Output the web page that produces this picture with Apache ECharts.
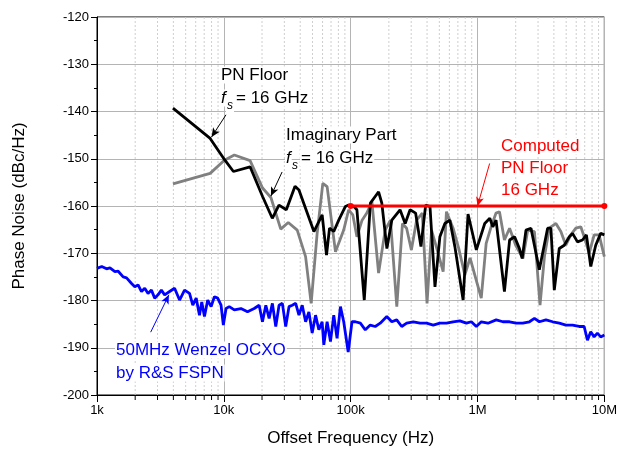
<!DOCTYPE html>
<html>
<head>
<meta charset="utf-8">
<script src="https://cdn.jsdelivr.net/npm/echarts@6/dist/echarts.min.js"></script>
<style>
  html, body { margin: 0; padding: 0; background: #fff; }
  #chart { width: 620px; height: 452px; }
</style>
</head>
<body>
<div id="chart"></div>
<script>
// Offset frequency (Hz) and phase noise (dBc/Hz) for each trace
const pnFloorFreq = [3970, 7800, 10200, 11900, 16100, 20200, 24100, 27200, 31100, 36400, 39100, 51300, 59600, 64500, 68100, 73600, 80500, 90900, 96400, 106000, 112000, 128000, 143000, 156000, 166000, 176000, 193000, 211000, 245000, 269000, 294000, 325000, 358000, 390000, 422000, 462000, 505000, 553000, 605000, 663000, 770000, 842000, 979000, 1140000, 1250000, 1320000, 1400000, 1630000, 1790000, 1960000, 2140000, 2250000, 2410000, 2640000, 3070000, 3570000, 3790000, 4030000, 4410000, 4830000, 5290000, 5610000, 6140000, 6720000, 7220000, 7810000, 8550000, 9350000, 10000000];
const pnFloorDb = [-139.3, -145.7, -150.3, -152.7, -151.7, -158.0, -162.6, -159.8, -160.8, -155.8, -156.6, -165.4, -161.9, -170.4, -164.7, -165.4, -163.0, -160.1, -159.8, -160.1, -160.8, -179.9, -159.4, -158.0, -157.0, -159.4, -169.0, -163.0, -160.8, -163.7, -160.8, -161.5, -168.6, -159.8, -160.1, -177.1, -166.5, -163.7, -163.0, -168.6, -179.9, -161.7, -169.3, -163.7, -162.6, -164.4, -163.0, -178.1, -167.2, -166.5, -169.0, -171.1, -165.1, -164.7, -173.5, -164.7, -164.7, -177.8, -169.0, -168.3, -166.5, -165.8, -167.6, -167.2, -166.1, -172.8, -168.3, -165.8, -166.1];

const imagFreq = [3970, 7800, 10100, 12100, 16100, 20200, 23500, 28100, 32200, 37900, 44100, 48800, 54400, 60300, 65200, 75900, 88100, 96400, 104000, 112000, 123000, 134000, 147000, 166000, 187000, 206000, 231000, 256000, 276000, 301000, 331000, 367000, 400000, 434000, 481000, 536000, 569000, 642000, 716000, 794000, 873000, 1070000, 1170000, 1280000, 1400000, 1490000, 1630000, 1790000, 2000000, 2280000, 2490000, 2810000, 3110000, 3370000, 3680000, 4150000, 4540000, 4970000, 5440000, 5960000, 6520000, 6930000, 7590000, 8310000, 9090000, 10000000];
const imagDb = [-155.3, -153.1, -150.3, -149.2, -150.4, -156.2, -158.2, -164.9, -163.5, -165.1, -170.7, -180.6, -165.8, -155.2, -155.9, -169.7, -165.1, -160.8, -161.9, -166.5, -163.0, -161.5, -159.1, -174.2, -165.1, -163.0, -181.3, -163.7, -164.7, -169.3, -163.0, -161.5, -180.6, -165.1, -169.3, -173.9, -161.2, -164.7, -169.3, -174.6, -171.0, -179.5, -167.9, -164.4, -161.5, -161.2, -167.2, -164.7, -168.3, -171.1, -165.1, -165.4, -181.0, -170.7, -164.7, -163.7, -165.4, -168.3, -166.1, -164.7, -164.4, -166.5, -170.0, -166.1, -166.1, -170.7];

const ocxoFreq = [1000, 1090, 1190, 1265, 1384, 1469, 1608, 1710, 1872, 1986, 2108, 2242, 2379, 2526, 2686, 2850, 3026, 3217, 3415, 3737, 4090, 4477, 4900, 5363, 5692, 6053, 6425, 6697, 7033, 7464, 7937, 8424, 8942, 9506, 9911, 10410, 11040, 12090, 13640, 15370, 17350, 18990, 20160, 21430, 22750, 24140, 25670, 27250, 28930, 30750, 32640, 34640, 36850, 39100, 41500, 44130, 46840, 49720, 52870, 56110, 59560, 61400, 65180, 69300, 73560, 78080, 83030, 88130, 95590, 102400, 108900, 119200, 130400, 142700, 156200, 171000, 192600, 210900, 230700, 252600, 276400, 311900, 352100, 396700, 447700, 505100, 569100, 642300, 725000, 817100, 894300, 978600, 1071000, 1209000, 1404000, 1585000, 1789000, 2016000, 2275000, 2567000, 2810000, 3075000, 3465000, 3910000, 4414000, 4972000, 5610000, 6333000, 6930000, 7357000, 7809000, 8302000, 8813000, 9354000, 10000000];
const ocxoDb = [-173.2, -172.8, -173.3, -173.1, -173.9, -173.8, -175.0, -175.2, -176.4, -177.1, -176.7, -178.1, -177.4, -178.5, -177.8, -179.5, -178.8, -177.8, -178.8, -178.1, -177.4, -179.9, -177.8, -178.5, -181.0, -179.5, -183.1, -180.3, -183.4, -179.9, -181.3, -179.2, -179.5, -181.0, -185.2, -181.7, -181.3, -182.0, -181.7, -182.4, -181.7, -181.0, -184.5, -181.0, -183.8, -180.6, -185.5, -181.0, -180.6, -185.5, -181.3, -181.0, -180.6, -183.1, -181.0, -184.5, -182.4, -186.9, -183.1, -186.2, -184.5, -189.4, -184.5, -188.7, -183.1, -188.0, -181.3, -184.5, -190.9, -184.5, -184.5, -184.8, -186.2, -185.2, -185.5, -184.8, -183.4, -184.5, -184.1, -185.5, -184.8, -184.5, -184.8, -184.8, -185.2, -184.8, -184.8, -184.5, -184.3, -184.8, -184.5, -185.5, -184.5, -184.8, -184.1, -184.5, -184.5, -184.8, -184.8, -184.5, -183.8, -184.5, -184.1, -184.5, -184.8, -185.2, -185.2, -185.5, -185.5, -188.4, -186.6, -187.7, -186.9, -187.7, -187.3];

const computedFreq = [1e5, 1e7];
const computedDb = [-160, -160];

// Axis ticks
const xTickValues = [1e3, 1e4, 1e5, 1e6, 1e7];
const xTickLabels = ['1k', '10k', '100k', '1M', '10M'];
const minorMultipliers = [2, 3, 4, 5, 6, 7, 8, 9];
const decades = [1e3, 1e4, 1e5, 1e6];
const yMin = -200, yMax = -120, yStep = 10;

const FONT = '"Liberation Sans", Arial, sans-serif';

const zip = (xs, ys) => xs.map((x, i) => [x, ys[i]]);
const minorFreqs = [];
decades.forEach(d => minorMultipliers.forEach(m => minorFreqs.push([d * m, yMin])));

function arrow(color, from, to) {
  return {
    silent: true,
    symbol: ['none', 'arrow'],
    symbolSize: [6, 9],
    label: { show: false },
    emphasis: { disabled: true },
    lineStyle: { color: color, width: 1, type: 'solid' },
    data: [[{ coord: from }, { coord: to }]]
  };
}

function txt(x, y, text, color, size, italic, z) {
  return {
    type: 'text', x: x, y: y, silent: true, z: z || 100,
    style: {
      text: text, fill: color,
      font: (italic ? 'italic ' : '') + size + 'px ' + FONT,
      textVerticalAlign: 'middle', verticalAlign: 'middle',
      backgroundColor: '#fff', padding: [0, 1]
    }
  };
}

// Label with italic f and subscript s followed by "= 16 GHz"
function fsLabel(x, y) {
  return [
    txt(x + 6, y + 8, 's', '#000', 12, true, 100),
    txt(x, y, 'f', '#000', 17, true, 101),
    txt(x + 15, y, '= 16 GHz', '#000', 17, false, 100)
  ];
}

const chart = echarts.init(document.getElementById('chart'), null, { renderer: 'canvas' });

chart.setOption({
  animation: false,
  backgroundColor: '#fff',
  grid: { left: 97, right: 13, top: 17, bottom: 57, show: true, borderColor: '#000', borderWidth: 1, backgroundColor: 'transparent' },
  xAxis: {
    type: 'log', logBase: 10, min: 1e3, max: 1e7,
    name: 'Offset Frequency (Hz)', nameLocation: 'middle', nameGap: 35,
    nameTextStyle: { fontFamily: FONT, fontSize: 17, color: '#000' },
    axisLine: { lineStyle: { color: '#000', width: 1 } },
    axisTick: { show: true, inside: false, length: 7, lineStyle: { color: '#000' } },
    axisLabel: {
      margin: 9, fontFamily: FONT, fontSize: 13, color: '#000',
      formatter: v => {
        const i = xTickValues.findIndex(t => Math.abs(Math.log10(t) - Math.log10(v)) < 1e-6);
        return i >= 0 ? xTickLabels[i] : '';
      }
    },
    splitLine: { show: true, lineStyle: { color: '#b4b4b4', width: 1 } }
  },
  yAxis: {
    type: 'value', min: yMin, max: yMax, interval: yStep,
    name: 'Phase Noise (dBc/Hz)', nameLocation: 'middle', nameGap: 69,
    nameTextStyle: { fontFamily: FONT, fontSize: 17, color: '#000' },
    axisLine: { show: true, lineStyle: { color: '#000', width: 1 } },
    axisTick: { show: true, inside: false, length: 6, lineStyle: { color: '#000' } },
    minorTick: { show: true, splitNumber: 2, length: 3, lineStyle: { color: '#000' } },
    axisLabel: { margin: 8, fontFamily: FONT, fontSize: 13, color: '#000' },
    splitLine: { show: true, lineStyle: { color: '#b4b4b4', width: 1 } }
  },
  series: [
    {
      // dotted minor grid lines at 2..9 x each decade, with their ticks below the axis
      type: 'custom', silent: true, clip: false, z: 1,
      data: minorFreqs,
      encode: { x: 0, y: 1 },
      renderItem: (params, api) => {
        const f = api.value(0);
        const top = api.coord([f, yMax]);
        const bot = api.coord([f, yMin]);
        return {
          type: 'group',
          children: [
            { type: 'line', shape: { x1: top[0], y1: top[1], x2: bot[0], y2: bot[1] },
              style: { stroke: '#cfcfcf', lineWidth: 1, lineDash: [2, 2] } },
            { type: 'line', shape: { x1: bot[0], y1: bot[1], x2: bot[0], y2: bot[1] + 5 },
              style: { stroke: '#000', lineWidth: 1 } }
          ]
        };
      }
    },
    {
      name: '50MHz Wenzel OCXO', type: 'line', z: 3,
      data: zip(ocxoFreq, ocxoDb), showSymbol: false,
      lineStyle: { color: '#0000ff', width: 2.8 },
      markLine: arrow('#0000ff', [2650, -186.7], [3690, -178.8])
    },
    {
      name: 'Imaginary Part', type: 'line', z: 4,
      data: zip(imagFreq, imagDb), showSymbol: false,
      lineStyle: { color: '#808080', width: 2.8 },
      markLine: arrow('#000', [28800, -152.8], [23500, -157.9])
    },
    {
      name: 'PN Floor', type: 'line', z: 5,
      data: zip(pnFloorFreq, pnFloorDb), showSymbol: false,
      lineStyle: { color: '#000', width: 2.8 },
      markLine: arrow('#000', [10400, -140.7], [8000, -145.4])
    },
    {
      name: 'Computed PN Floor', type: 'line', z: 6,
      data: zip(computedFreq, computedDb),
      symbol: 'circle', symbolSize: 6, showSymbol: true,
      itemStyle: { color: '#ff0000' },
      lineStyle: { color: '#ff0000', width: 3 },
      markLine: arrow('#ff0000', [1246000, -151], [1000000, -160])
    }
  ],
  graphic: [
    txt(220, 75, 'PN Floor', '#000', 17, false),
    ...fsLabel(220, 98),
    txt(285, 135, 'Imaginary Part', '#000', 17, false),
    ...fsLabel(285, 158),
    txt(500, 146, 'Computed', '#ff0000', 17, false),
    txt(500, 168, 'PN Floor', '#ff0000', 17, false),
    txt(500, 190, '16 GHz', '#ff0000', 17, false),
    txt(115, 350, '50MHz Wenzel OCXO', '#0000ff', 17, false),
    txt(115, 373, 'by R&S FSPN', '#0000ff', 17, false)
  ]
});
</script>
</body>
</html>
